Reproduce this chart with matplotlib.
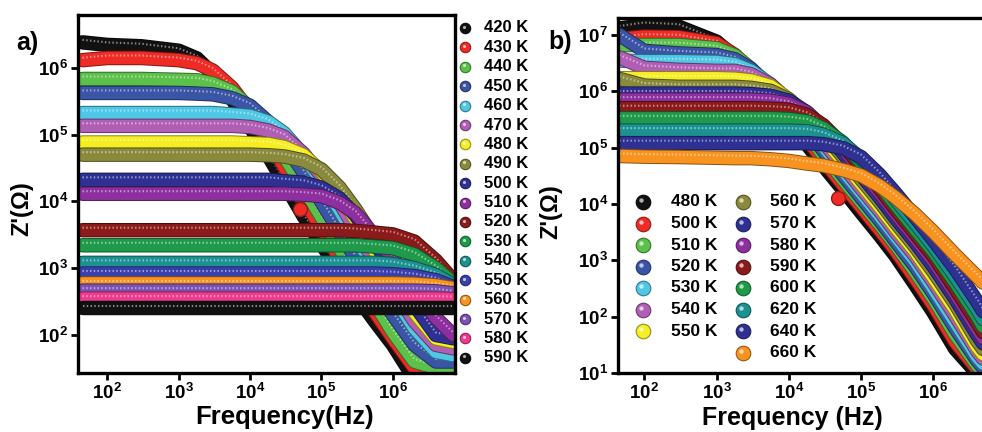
import matplotlib
matplotlib.use('Agg')
import matplotlib.pyplot as plt
import matplotlib.colors as mcolors
from matplotlib.lines import Line2D
from matplotlib.ticker import NullLocator
from matplotlib.transforms import offset_copy

plt.rcParams['font.family'] = ['Liberation Sans', 'DejaVu Sans']
plt.rcParams['font.weight'] = 'bold'
plt.rcParams['mathtext.fontset'] = 'custom'
plt.rcParams['mathtext.rm'] = 'Liberation Sans:bold'
plt.rcParams['mathtext.it'] = 'Liberation Sans:bold'
plt.rcParams['mathtext.bf'] = 'Liberation Sans:bold'
plt.rcParams['mathtext.default'] = 'rm'

# ---------------- data ----------------
freq = [45, 100, 300, 1e3, 1.8e3, 3e3, 5.6e3, 1e4, 1.8e4, 3e4, 5.6e4, 1e5, 1.8e5, 3e5, 5.6e5,
        1e6, 2e6, 4e6, 7e6]

labels_a = ['420 K', '430 K', '440 K', '450 K', '460 K', '470 K', '480 K', '490 K', '500 K',
            '510 K', '520 K', '530 K', '540 K', '550 K', '560 K', '570 K', '580 K', '590 K']
colors_a = ['#111111', '#ee2b24', '#5cc14a', '#3b55a6', '#4fc8e6', '#b15fb5', '#f4ee22', '#8a8a3c',
            '#2e3192', '#8d2f9e', '#8b1a1a', '#1f9a4a', '#1b9191', '#3a3fae', '#f7931e', '#7b52b4',
            '#ef3b8d', '#111111']

za_420 = [2.4e6, 2.2e6, 2.1e6, 1.8e6, 1.38e6, 8.1e5, 3.4e5, 1.3e5, 4.8e4, 1.9e4, 6.0e3, 2.3e3,
          890, 400, 160, 71, 22, 18, 20]
za_430 = [1.3e6, 1.4e6, 1.4e6, 1.3e6, 1.17e6, 9.1e5, 5.0e5, 2.2e5, 8.5e4, 3.3e4, 1.1e4, 3.9e3,
          1.4e3, 560, 220, 89, 32, 28, 32]
za_440 = [6.8e5, 6.8e5, 6.8e5, 6.6e5, 6.5e5, 5.8e5, 4.4e5, 2.5e5, 1.1e5, 4.8e4, 1.6e4, 5.8e3,
          2.0e3, 790, 300, 110, 40, 32, 35]
za_450 = [4.2e5, 4.2e5, 4.2e5, 4.2e5, 4.1e5, 4.0e5, 3.5e5, 2.7e5, 1.55e5, 7.4e4, 2.7e4, 9.8e3,
          3.5e3, 1.4e3, 500, 200, 71, 40, 40]
za_460 = [2.1e5, 2.1e5, 2.1e5, 2.1e5, 2.1e5, 2.1e5, 2.0e5, 1.9e5, 1.55e5, 1.05e5, 4.9e4, 2.0e4,
          7.4e3, 2.9e3, 1.0e3, 400, 126, 56, 50]
za_470 = [1.35e5, 1.35e5, 1.35e5, 1.35e5, 1.35e5, 1.35e5, 1.35e5, 1.3e5, 1.15e5, 9.3e4, 5.2e4,
          2.4e4, 9.5e3, 3.8e3, 1.25e3, 500, 160, 71, 63]
za_480 = [7.6e4, 7.6e4, 7.6e4, 7.6e4, 7.6e4, 7.6e4, 7.6e4, 7.4e4, 7.2e4, 6.5e4, 4.9e4, 2.8e4,
          1.26e4, 5.4e3, 1.8e3, 710, 220, 89, 79]
za_490 = [5.0e4, 5.0e4, 5.0e4, 5.0e4, 5.0e4, 5.0e4, 5.0e4, 5.0e4, 4.9e4, 4.7e4, 4.1e4, 3.0e4,
          1.6e4, 7.6e3, 2.7e3, 1.0e3, 320, 110, 100]
za_500 = [2.1e4, 2.1e4, 2.1e4, 2.1e4, 2.1e4, 2.1e4, 2.1e4, 2.1e4, 2.1e4, 2.0e4, 1.9e4, 1.6e4,
          1.1e4, 6.2e3, 2.4e3, 910, 280, 100, 89]
za_510 = [1.3e4, 1.3e4, 1.3e4, 1.3e4, 1.3e4, 1.3e4, 1.3e4, 1.3e4, 1.3e4, 1.3e4, 1.26e4, 1.2e4,
          9.5e3, 6.6e3, 3.0e3, 1.4e3, 500, 180, 100]
za_520 = [3.7e3, 3.7e3, 3.7e3, 3.7e3, 3.7e3, 3.7e3, 3.7e3, 3.7e3, 3.7e3, 3.7e3, 3.7e3, 3.7e3,
          3.7e3, 3.6e3, 3.4e3, 3.2e3, 2.5e3, 1.3e3, 660]
za_530 = [2.2e3, 2.2e3, 2.2e3, 2.2e3, 2.2e3, 2.2e3, 2.2e3, 2.2e3, 2.2e3, 2.2e3, 2.2e3, 2.2e3,
          2.2e3, 2.2e3, 2.1e3, 2.0e3, 1.6e3, 1.0e3, 600]
za_540 = [1.2e3, 1.2e3, 1.2e3, 1.2e3, 1.2e3, 1.2e3, 1.2e3, 1.2e3, 1.2e3, 1.2e3, 1.2e3, 1.2e3,
          1.2e3, 1.2e3, 1.2e3, 1.15e3, 1.0e3, 790, 560]
za_550 = [830, 830, 830, 830, 830, 830, 830, 830, 830, 830, 830, 830, 830, 830, 830, 810, 760,
          660, 520]
za_560 = [590, 590, 590, 590, 590, 590, 590, 590, 590, 590, 590, 590, 590, 590, 590, 590, 580,
          550, 500]
za_570 = [460, 460, 460, 460, 460, 460, 460, 460, 460, 460, 460, 460, 460, 460, 460, 460, 460,
          450, 420]
za_580 = [350, 350, 350, 350, 350, 350, 350, 350, 350, 350, 350, 350, 350, 350, 350, 350, 350,
          350, 345]
za_590 = [250, 250, 250, 250, 250, 250, 250, 250, 250, 250, 250, 250, 250, 250, 250, 250, 250,
          250, 250]
series_a = [za_420, za_430, za_440, za_450, za_460, za_470, za_480, za_490, za_500,
            za_510, za_520, za_530, za_540, za_550, za_560, za_570, za_580, za_590]
outlier_a_f = [5e4]
outlier_a_z = [7.6e3]

labels_b = ['480 K', '500 K', '510 K', '520 K', '530 K', '540 K', '550 K', '560 K',
            '570 K', '580 K', '590 K', '600 K', '620 K', '640 K', '660 K']
colors_b = ['#111111', '#ee2b24', '#5cc14a', '#3b55a6', '#4fc8e6', '#b15fb5', '#f4ee22', '#8a8a3c',
            '#2e3192', '#8d2f9e', '#8b1a1a', '#1f9a4a', '#1b9191', '#2e3192', '#f7931e']

zb_480 = [1.3e7, 1.5e7, 1.4e7, 7.6e6, 4.0e6, 1.8e6, 7.1e5, 2.8e5, 1.12e5, 4.8e4, 1.8e4, 7.1e3,
          2.8e3, 1.2e3, 370, 120, 27, 10, 6.3]
zb_500 = [8.5e6, 9.3e6, 9.1e6, 7.1e6, 4.4e6, 2.2e6, 8.7e5, 3.5e5, 1.4e5, 6.0e4, 2.2e4, 8.9e3,
          3.5e3, 1.5e3, 480, 160, 36, 12, 5.0]
zb_510 = [6.6e6, 6.6e6, 6.6e6, 5.8e6, 4.3e6, 2.5e6, 1.05e6, 4.3e5, 1.74e5, 7.4e4, 2.75e4, 1.1e4,
          4.4e3, 1.9e3, 630, 210, 49, 14, 6.2]
zb_520 = [1.0e7, 5.2e6, 4.7e6, 4.4e6, 3.7e6, 2.5e6, 1.2e6, 5.1e5, 2.1e5, 8.9e4, 3.3e4, 1.3e4,
          5.2e3, 2.2e3, 780, 260, 63, 17, 7.2]
zb_530 = [3.5e6, 3.4e6, 3.4e6, 3.3e6, 3.0e6, 2.3e6, 1.32e6, 6.0e5, 2.5e5, 1.07e5, 4.0e4, 1.6e4,
          6.3e3, 2.7e3, 980, 320, 81, 20, 8.5]
zb_540 = [4.0e6, 2.6e6, 2.4e6, 2.3e6, 2.3e6, 2.0e6, 1.32e6, 6.8e5, 3.0e5, 1.26e5, 4.8e4, 1.9e4,
          7.6e3, 3.2e3, 1.2e3, 410, 105, 25, 10]
zb_550 = [1.7e6, 1.7e6, 1.7e6, 1.7e6, 1.66e6, 1.55e6, 1.23e6, 7.2e5, 3.4e5, 1.5e5, 5.8e4, 2.3e4,
          9.1e3, 3.9e3, 1.45e3, 500, 135, 30, 12]
zb_560 = [1.66e6, 1.26e6, 1.2e6, 1.2e6, 1.2e6, 1.15e6, 1.02e6, 7.2e5, 3.8e5, 1.8e5, 6.9e4, 2.75e4,
          1.1e4, 4.7e3, 1.74e3, 630, 170, 38, 14]
zb_570 = [9.1e5, 9.1e5, 9.1e5, 9.1e5, 9.1e5, 8.9e5, 8.3e5, 6.8e5, 4.2e5, 2.1e5, 8.1e4, 3.3e4,
          1.32e4, 5.6e3, 2.1e3, 780, 210, 49, 17]
zb_580 = [7.1e5, 7.1e5, 7.1e5, 7.1e5, 7.1e5, 7.1e5, 6.8e5, 6.0e5, 4.2e5, 2.3e5, 9.8e4, 3.9e4,
          1.6e4, 6.8e3, 2.5e3, 980, 260, 63, 20]
zb_590 = [5.0e5, 5.0e5, 5.0e5, 5.0e5, 5.0e5, 5.0e5, 4.9e5, 4.7e5, 3.8e5, 2.5e5, 1.12e5, 4.7e4,
          1.9e4, 8.1e3, 3.0e3, 1.2e3, 320, 81, 25]
zb_600 = [3.3e5, 3.3e5, 3.3e5, 3.3e5, 3.3e5, 3.3e5, 3.3e5, 3.2e5, 2.9e5, 2.2e5, 1.23e5, 5.5e4,
          2.2e4, 9.8e3, 3.6e3, 1.45e3, 410, 105, 30]
zb_620 = [2.0e5, 2.0e5, 2.0e5, 2.0e5, 2.0e5, 2.0e5, 2.0e5, 2.0e5, 1.95e5, 1.7e5, 1.2e5, 6.3e4,
          2.8e4, 1.2e4, 4.6e3, 1.8e3, 520, 140, 41]
zb_640 = [1.2e5, 1.2e5, 1.2e5, 1.2e5, 1.2e5, 1.2e5, 1.2e5, 1.2e5, 1.2e5, 1.15e5, 9.8e4, 6.8e4,
          3.3e4, 1.55e4, 5.9e3, 2.3e3, 710, 190, 58]
zb_660 = [7.1e4, 6.9e4, 6.8e4, 6.6e4, 6.5e4, 6.5e4, 6.2e4, 5.8e4, 5.2e4, 4.8e4, 4.0e4, 3.2e4,
          2.1e4, 1.3e4, 6.6e3, 3.2e3, 1.26e3, 520, 250]
series_b = [zb_480, zb_500, zb_510, zb_520, zb_530, zb_540, zb_550, zb_560,
            zb_570, zb_580, zb_590, zb_600, zb_620, zb_640, zb_660]
outlier_b_f = [4.8e4]
outlier_b_z = [1.3e4]

xticks_a = [1e2, 1e3, 1e4, 1e5, 1e6]
xticklabels_a = [r'$10^{2}$', r'$10^{3}$', r'$10^{4}$', r'$10^{5}$', r'$10^{6}$']
yticks_a = [1e2, 1e3, 1e4, 1e5, 1e6]
yticklabels_a = [r'$10^{2}$', r'$10^{3}$', r'$10^{4}$', r'$10^{5}$', r'$10^{6}$']
xticks_b = [1e2, 1e3, 1e4, 1e5, 1e6]
xticklabels_b = [r'$10^{2}$', r'$10^{3}$', r'$10^{4}$', r'$10^{5}$', r'$10^{6}$']
yticks_b = [1e1, 1e2, 1e3, 1e4, 1e5, 1e6, 1e7]
yticklabels_b = [r'$10^{1}$', r'$10^{2}$', r'$10^{3}$', r'$10^{4}$', r'$10^{5}$', r'$10^{6}$',
                 r'$10^{7}$']

# ---------------- drawing ----------------
W, H = 982, 432
fig = plt.figure(figsize=(W / 100, H / 100), dpi=100)


def rect(l, t, r, b):
    return [l / W, 1 - b / H, (r - l) / W, (b - t) / H]


def fx(x):
    return x / W


def fy(y):
    return 1 - y / H


def shade(c, f):
    r, g, b = mcolors.to_rgb(c)
    return (r * f, g * f, b * f)


def tint(c, f):
    r, g, b = mcolors.to_rgb(c)
    return (r + (1 - r) * f, g + (1 - g) * f, b + (1 - b) * f)


def band(ax, x, y, c, z, lw=9.0):
    ax.plot(x, y, color=shade(c, 0.55), lw=lw + 1.4, solid_capstyle='round',
            solid_joinstyle='round', zorder=z)
    ax.plot(x, y, color=c, lw=lw, solid_capstyle='round', solid_joinstyle='round', zorder=z + 0.1)
    tr = offset_copy(ax.transData, fig=fig, x=0, y=2.5, units='dots')
    ax.plot(x, y, color=tint(c, 0.55), lw=1.5, ls=(0, (0.7, 1.1)), zorder=z + 0.2,
            transform=tr, alpha=0.9)


def sphere(x, y, c, ms):
    fig.add_artist(Line2D([fx(x)], [fy(y)], transform=fig.transFigure, marker='o', ms=ms,
                          mfc=c, mec=shade(c, 0.6), mew=0.8, ls='none'))
    fig.add_artist(Line2D([fx(x - ms * 0.18)], [fy(y - ms * 0.18)], transform=fig.transFigure,
                          marker='o', ms=ms * 0.3, mfc=tint(c, 0.75), mec='none', ls='none',
                          alpha=0.9))


def style_axes(ax, xt, xtl, yt, ytl):
    ax.set_xscale('log')
    ax.set_yscale('log')
    ax.set_xticks(xt)
    ax.set_xticklabels(xtl)
    ax.set_yticks(yt)
    ax.set_yticklabels(ytl)
    ax.xaxis.set_minor_locator(NullLocator())
    ax.yaxis.set_minor_locator(NullLocator())
    ax.tick_params(direction='out', length=5, width=2, labelsize=13.5, pad=2,
                   top=False, right=False)
    for sp in ax.spines.values():
        sp.set_linewidth(2.4)
        sp.set_zorder(100)


axa = fig.add_axes(rect(78, 15, 455, 373))
axb = fig.add_axes(rect(618, 18, 996, 373))

for i, (z, c) in enumerate(zip(series_a, colors_a)):
    band(axa, freq, z, c, 2 + i)
axa.plot(outlier_a_f, outlier_a_z, 'o', ms=10, mfc=colors_a[1], mec=shade(colors_a[1], 0.6),
         zorder=60)
axa.set_xlim(10 ** 1.59, 10 ** 6.87)
axa.set_ylim(10 ** 1.43, 10 ** 6.79)
style_axes(axa, xticks_a, xticklabels_a, yticks_a, yticklabels_a)

for i, (z, c) in enumerate(zip(series_b, colors_b)):
    band(axb, freq, z, c, 2 + i)
axb.plot(outlier_b_f, outlier_b_z, 'o', ms=10, mfc=colors_b[1], mec=shade(colors_b[1], 0.6),
         zorder=60)
axb.set_xlim(10 ** 1.636, 10 ** 6.868)
axb.set_ylim(10 ** 1.0, 10 ** 7.30)
style_axes(axb, xticks_b, xticklabels_b, yticks_b, yticklabels_b)

# axis labels and panel letters
fig.text(fx(285), fy(424), 'Frequency(Hz)', fontsize=18.5, fontweight='bold', ha='center',
         va='baseline')
fig.text(fx(22), fy(209), "Z'(\u03a9)", fontsize=17, fontweight='bold', ha='center', va='center',
         rotation=90)
fig.text(fx(792), fy(425), 'Frequency (Hz)', fontsize=18, fontweight='bold', ha='center',
         va='baseline')
fig.text(fx(551), fy(212), "Z'(\u03a9)", fontsize=17, fontweight='bold', ha='center', va='center',
         rotation=90)
fig.text(fx(27), fy(43), 'a)', fontsize=18, fontweight='bold', ha='center', va='center')
fig.text(fx(560), fy(42), 'b)', fontsize=18, fontweight='bold', ha='center', va='center')

# legend a (outside right)
for i, (lab, c) in enumerate(zip(labels_a, colors_a)):
    y = 28 + i * 19.4
    sphere(465, y, c, 7.5)
    fig.text(fx(484), fy(y), lab, fontsize=12, fontweight='bold', ha='left', va='center')

# legend b (two columns inside)
for i, (lab, c) in enumerate(zip(labels_b, colors_b)):
    if i < 7:
        mx, tx, y = 643, 671, 202 + i * 21.5
    else:
        mx, tx, y = 743, 770, 202 + (i - 7) * 21.5
    sphere(mx, y, c, 10.5)
    fig.text(fx(tx), fy(y), lab, fontsize=12.5, fontweight='bold', ha='left', va='center')

fig.savefig('out.png', dpi=100)
